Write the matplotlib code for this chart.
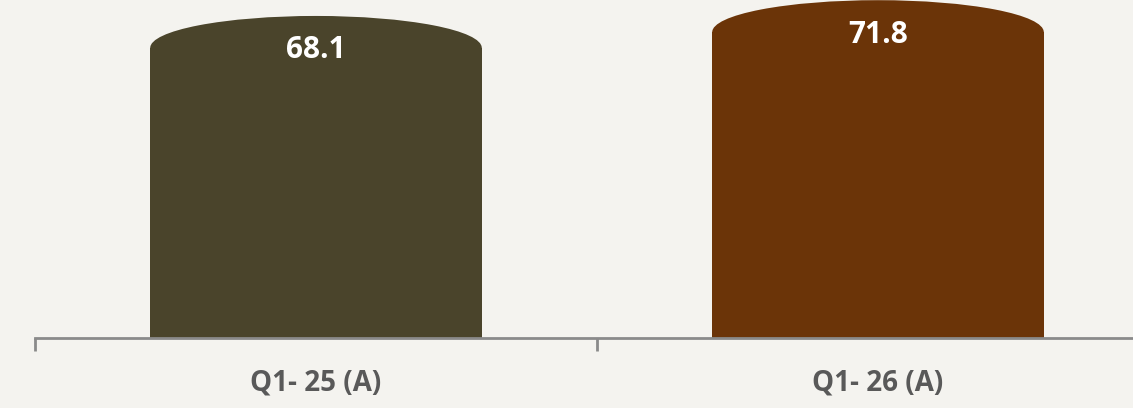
import matplotlib.pyplot as plt
from matplotlib.patches import Ellipse

# chart data
categories = ['Q1- 25 (A)', 'Q1- 26 (A)']
values = [68.1, 71.8]
colors = ['#4a442b', '#6b3408']

bar_w = 0.59
cap_h = 15  # height of the rounded top, in data units

fig = plt.figure(figsize=(11.33, 4.08), dpi=100)
fig.patch.set_facecolor('#f4f3ef')
ax = fig.add_axes([35 / 1133, 70 / 408, 1124 / 1133, 338 / 408])
ax.set_facecolor('none')

x = list(range(len(categories)))
ax.bar(x, values, width=bar_w, color=colors, zorder=2)
for xi, v, c in zip(x, values, colors):
    ax.add_patch(Ellipse((xi, v), bar_w, cap_h, color=c, zorder=2, lw=0))
    ax.text(xi, v - 0.6, f'{v:.1f}', ha='center', va='center', color='white',
            fontsize=21.5, fontweight='bold', family='Open Sans', zorder=3)

ax.set_xlim(-0.5, len(categories) - 0.5)
ax.set_ylim(0, 338 / 4.26)

for s in ['top', 'right', 'left']:
    ax.spines[s].set_visible(False)
ax.spines['bottom'].set_color('#8a8a8a')
ax.spines['bottom'].set_linewidth(2)
ax.set_yticks([])

ax.set_xticks(x)
ax.set_xticklabels(categories, fontsize=20, fontweight='bold', color='#595959',
                   family='Open Sans')
ax.tick_params(axis='x', which='major', length=0, pad=22)
ax.set_xticks([i - 0.5 for i in range(len(categories) + 1)], minor=True)
ax.tick_params(axis='x', which='minor', length=9, width=2, color='#8a8a8a')

fig.savefig('out.png', dpi=100, facecolor=fig.get_facecolor())
